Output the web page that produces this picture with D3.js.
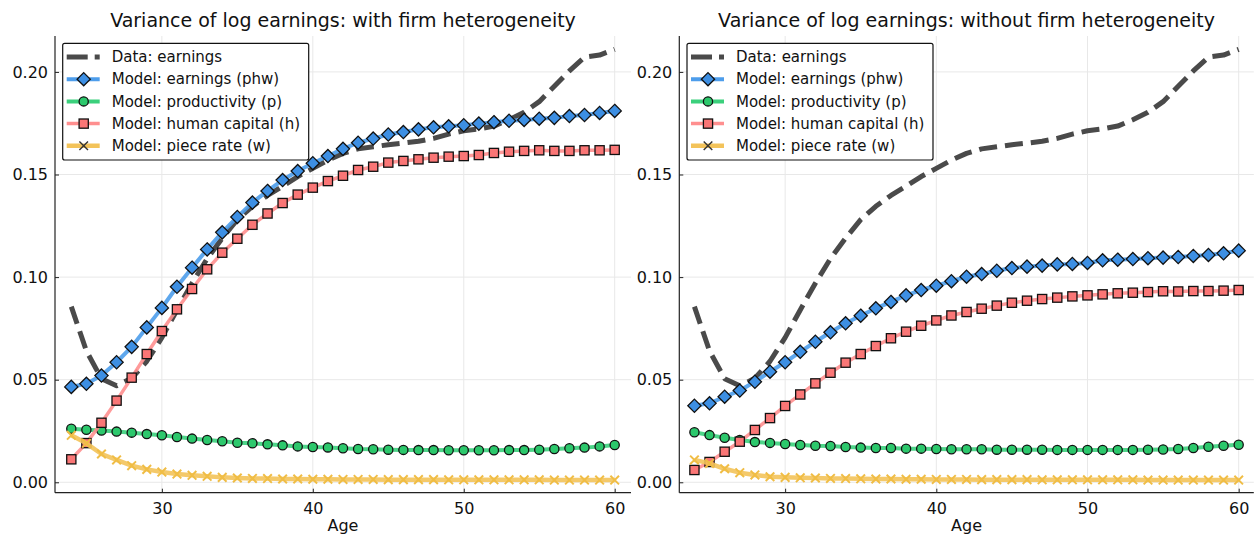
<!DOCTYPE html>
<html>
<head>
<meta charset="utf-8">
<script src="https://cdn.jsdelivr.net/npm/d3@7"></script>
<style>
  html, body { margin: 0; padding: 0; background: #fff; }
  svg { display: block; font-family: "DejaVu Sans", sans-serif; }
</style>
</head>
<body>
<svg id="chart" width="1254" height="535"></svg>
<script>
// Ages on the horizontal axis
const ages = [24, 25, 26, 27, 28, 29, 30, 31, 32, 33, 34, 35, 36, 37, 38, 39, 40, 41, 42,
  43, 44, 45, 46, 47, 48, 49, 50, 51, 52, 53, 54, 55, 56, 57, 58, 59, 60];

// Observed variance of log earnings by age (shared by both panels)
const dataEarnings = [0.0856, 0.064, 0.0505, 0.047, 0.0507, 0.059, 0.0705, 0.084, 0.097, 0.109,
  0.119, 0.128, 0.1345, 0.1398, 0.1443, 0.149, 0.153, 0.157, 0.1603, 0.1625, 0.1635, 0.1645,
  0.1653, 0.1662, 0.1676, 0.1697, 0.1713, 0.1722, 0.1736, 0.1767, 0.1803, 0.1855, 0.193,
  0.2005, 0.2072, 0.2082, 0.211];

// Model with firm heterogeneity
const withPhw = [0.0465, 0.048, 0.052, 0.0585, 0.066, 0.0755, 0.085, 0.0953, 0.1046, 0.1135,
  0.1218, 0.1293, 0.1363, 0.142, 0.1473, 0.1517, 0.1555, 0.159, 0.1625, 0.1655, 0.1675, 0.1695,
  0.1707, 0.172, 0.173, 0.1735, 0.174, 0.1748, 0.1755, 0.1762, 0.1766, 0.1772, 0.1776, 0.1785,
  0.179, 0.18, 0.181];
const withP = [0.0261, 0.0256, 0.0252, 0.0247, 0.0242, 0.0235, 0.0229, 0.0221, 0.0213, 0.0206,
  0.02, 0.0193, 0.019, 0.0185, 0.018, 0.0175, 0.0172, 0.017, 0.0166, 0.0162, 0.0161, 0.0159,
  0.0158, 0.0157, 0.0157, 0.0156, 0.0156, 0.0156, 0.0156, 0.0157, 0.0157, 0.0159, 0.0162,
  0.0166, 0.0169, 0.0175, 0.0182];
const withH = [0.0112, 0.0191, 0.029, 0.0398, 0.051, 0.0625, 0.0737, 0.0843, 0.0942, 0.1038,
  0.1119, 0.1187, 0.1255, 0.131, 0.1361, 0.1402, 0.1436, 0.1468, 0.1494, 0.1522, 0.1538, 0.1558,
  0.1566, 0.1574, 0.1582, 0.1587, 0.159, 0.1595, 0.1605, 0.1611, 0.1615, 0.1618, 0.1615, 0.1615,
  0.1618, 0.1618, 0.162];
const withW = [0.0229, 0.019, 0.0138, 0.0109, 0.0081, 0.0063, 0.005, 0.004, 0.0034, 0.0029,
  0.0024, 0.0021, 0.0019, 0.0018, 0.0016, 0.0016, 0.0015, 0.0015, 0.0014, 0.0014, 0.0014, 0.0013,
  0.0013, 0.0013, 0.0013, 0.0012, 0.0012, 0.0012, 0.0012, 0.0012, 0.0012, 0.0012, 0.0011,
  0.0011, 0.0011, 0.0011, 0.0011];

// Model without firm heterogeneity
const withoutPhw = [0.0373, 0.0385, 0.0417, 0.0447, 0.049, 0.0539, 0.0585, 0.0636, 0.0685,
  0.0731, 0.0775, 0.0812, 0.0848, 0.0879, 0.0911, 0.0937, 0.0958, 0.098, 0.1002, 0.1015, 0.1031,
  0.1044, 0.1051, 0.1056, 0.1062, 0.1064, 0.1069, 0.1082, 0.1085, 0.1088, 0.1092, 0.1095, 0.1098,
  0.1103, 0.1108, 0.1116, 0.1129];
const withoutP = [0.0244, 0.023, 0.0217, 0.0206, 0.0196, 0.0192, 0.0187, 0.0182, 0.0178, 0.0177,
  0.0172, 0.0169, 0.0167, 0.0167, 0.0164, 0.0164, 0.0162, 0.0161, 0.0161, 0.0161, 0.0159, 0.0159,
  0.0159, 0.0159, 0.0158, 0.0158, 0.0158, 0.0158, 0.0158, 0.0158, 0.0159, 0.016, 0.0162, 0.0167,
  0.0173, 0.0178, 0.0183];
const withoutH = [0.006, 0.0099, 0.0149, 0.0198, 0.0255, 0.0313, 0.0372, 0.0428, 0.0482, 0.0534,
  0.0583, 0.0625, 0.0664, 0.0702, 0.0734, 0.0763, 0.0789, 0.0813, 0.083, 0.0846, 0.0861, 0.0875,
  0.0885, 0.0893, 0.09, 0.0906, 0.0911, 0.0916, 0.0921, 0.0924, 0.0927, 0.0931, 0.093, 0.0932,
  0.0932, 0.0934, 0.0937];
const withoutW = [0.0109, 0.0092, 0.0066, 0.0047, 0.0036, 0.0027, 0.0024, 0.0022, 0.0021, 0.0019,
  0.0018, 0.0017, 0.0016, 0.0016, 0.0015, 0.0015, 0.0014, 0.0014, 0.0014, 0.0013, 0.0013, 0.0013,
  0.0013, 0.0012, 0.0012, 0.0012, 0.0012, 0.0012, 0.0012, 0.0012, 0.0011, 0.0011, 0.0011, 0.0011,
  0.0011, 0.0011, 0.0011];

const xTicks = [30, 40, 50, 60];
const yTicks = [0, 0.05, 0.10, 0.15, 0.20];
const yTickLabels = ["0.00", "0.05", "0.10", "0.15", "0.20"];
const seriesNames = ["Data: earnings", "Model: earnings (phw)", "Model: productivity (p)",
  "Model: human capital (h)", "Model: piece rate (w)"];
const titles = ["Variance of log earnings: with firm heterogeneity",
  "Variance of log earnings: without firm heterogeneity"];
const xLabel = "Age";

// Series styling
const styles = [
  { kind: "data", line: "#4a4a4a", width: 5 },
  { kind: "diamond", line: "#4d9deb", fill: "#3d8fe3", width: 4 },
  { kind: "circle", line: "#3bd07c", fill: "#2cc86c", width: 4 },
  { kind: "square", line: "#ff8f8f", fill: "#fa7676", width: 3.5 },
  { kind: "cross", line: "#f3c35a", fill: "#f0bd45", width: 4.5 }
];

const panels = [
  { series: [dataEarnings, withPhw, withP, withH, withW],
    left: 55, right: 631, xDomain: [22.92, 61.08] },
  { series: [dataEarnings, withoutPhw, withoutP, withoutH, withoutW],
    left: 679.3, right: 1253.8, xDomain: [23.0, 61.0] }
];
const plotTop = 36, plotBottom = 492.7;
const yDomain = [-0.00507, 0.2175];

const svg = d3.select("#chart");

function drawMarker(g, kind, cx, cy, fill, legend) {
  if (kind === "diamond") {
    const r = 6.6;
    g.append("path")
      .attr("d", `M${cx},${cy - r}L${cx + r},${cy}L${cx},${cy + r}L${cx - r},${cy}Z`)
      .attr("fill", fill).attr("stroke", "#111").attr("stroke-width", 1.3);
  } else if (kind === "circle") {
    g.append("circle").attr("cx", cx).attr("cy", cy).attr("r", 4.6)
      .attr("fill", fill).attr("stroke", "#111").attr("stroke-width", 1.3);
  } else if (kind === "square") {
    const h = 4.6;
    g.append("rect").attr("x", cx - h).attr("y", cy - h).attr("width", 2 * h).attr("height", 2 * h)
      .attr("fill", fill).attr("stroke", "#111").attr("stroke-width", 1.3);
  } else if (kind === "cross") {
    const h = 4.3;
    g.append("path")
      .attr("d", `M${cx - h},${cy - h}L${cx + h},${cy + h}M${cx - h},${cy + h}L${cx + h},${cy - h}`)
      .attr("fill", "none").attr("stroke", legend ? "#333" : fill)
      .attr("stroke-width", legend ? 1.4 : 2);
  }
}

panels.forEach((p, pi) => {
  const x = d3.scaleLinear().domain(p.xDomain).range([p.left, p.right]);
  const y = d3.scaleLinear().domain(yDomain).range([plotBottom, plotTop]);
  const g = svg.append("g");

  // Grid
  g.append("g").selectAll("line").data(xTicks).join("line")
    .attr("x1", d => x(d)).attr("x2", d => x(d)).attr("y1", plotTop).attr("y2", plotBottom)
    .attr("stroke", "#e8e8e8").attr("stroke-width", 1);
  g.append("g").selectAll("line").data(yTicks).join("line")
    .attr("x1", p.left).attr("x2", p.right).attr("y1", d => y(d)).attr("y2", d => y(d))
    .attr("stroke", "#e8e8e8").attr("stroke-width", 1);

  // Axes (ticks point inward, labels outside)
  const xAxis = d3.axisBottom(x).tickValues(xTicks).tickSize(-4).tickPadding(10)
    .tickFormat(d3.format("d"));
  const xa = g.append("g").attr("transform", `translate(0,${plotBottom})`).call(xAxis);
  xa.select(".domain").remove();
  xa.selectAll("line").attr("stroke", "#222");
  xa.selectAll("text").attr("font-size", 16).attr("fill", "#111")
    .attr("font-family", "DejaVu Sans, sans-serif");

  const yAxis = d3.axisLeft(y).tickValues(yTicks).tickSize(-4).tickPadding(7)
    .tickFormat((d, i) => yTickLabels[i]);
  const ya = g.append("g").attr("transform", `translate(${p.left},0)`).call(yAxis);
  ya.select(".domain").remove();
  ya.selectAll("line").attr("stroke", "#222");
  ya.selectAll("text").attr("font-size", 16).attr("fill", "#111")
    .attr("font-family", "DejaVu Sans, sans-serif");

  // Spines
  g.append("line").attr("x1", p.left).attr("x2", p.right).attr("y1", plotBottom).attr("y2", plotBottom)
    .attr("stroke", "#222").attr("stroke-width", 1.2);
  g.append("line").attr("x1", p.left).attr("x2", p.left).attr("y1", plotTop).attr("y2", plotBottom)
    .attr("stroke", "#222").attr("stroke-width", 1.2);

  // Series
  const line = d3.line().x((d, i) => x(ages[i])).y(d => y(d));
  p.series.forEach((vals, si) => {
    const st = styles[si];
    const sg = g.append("g");
    const path = sg.append("path").datum(vals).attr("d", line)
      .attr("fill", "none").attr("stroke", st.line).attr("stroke-width", st.width)
      .attr("stroke-linejoin", "round");
    if (st.kind === "data") {
      path.attr("stroke-dasharray", "18,8");
    } else {
      path.attr("stroke-opacity", 0.9);
      vals.forEach((v, i) => drawMarker(sg, st.kind, x(ages[i]), y(v), st.fill, false));
    }
  });

  // Title
  svg.append("text").attr("x", (p.left + p.right) / 2).attr("y", 27)
    .attr("text-anchor", "middle").attr("font-size", 19).attr("fill", "#111")
    .text(titles[pi]);

  // Axis label
  svg.append("text").attr("x", (p.left + p.right) / 2).attr("y", 531)
    .attr("text-anchor", "middle").attr("font-size", 16).attr("fill", "#111")
    .text(xLabel);

  // Legend
  const lx = p.left + 7.7, ly = 43.3, lw = 246, lh = 116.7;
  const lg = svg.append("g");
  lg.append("rect").attr("x", lx).attr("y", ly).attr("width", lw).attr("height", lh)
    .attr("rx", 2).attr("fill", "#fff").attr("stroke", "#111").attr("stroke-width", 1.2);
  seriesNames.forEach((name, si) => {
    const st = styles[si];
    const cy = ly + 13.7 + si * 22.2;
    const ln = lg.append("line").attr("x1", lx + 4).attr("x2", lx + 37)
      .attr("y1", cy).attr("y2", cy).attr("stroke", st.line).attr("stroke-width", st.width);
    if (st.kind === "data") ln.attr("stroke-dasharray", "21,7");
    else drawMarker(lg, st.kind, lx + 21, cy, st.fill, true);
    lg.append("text").attr("x", lx + 49).attr("y", cy).attr("dy", "0.35em")
      .attr("font-size", 15).attr("fill", "#111").text(name);
  });
});
</script>
</body>
</html>
